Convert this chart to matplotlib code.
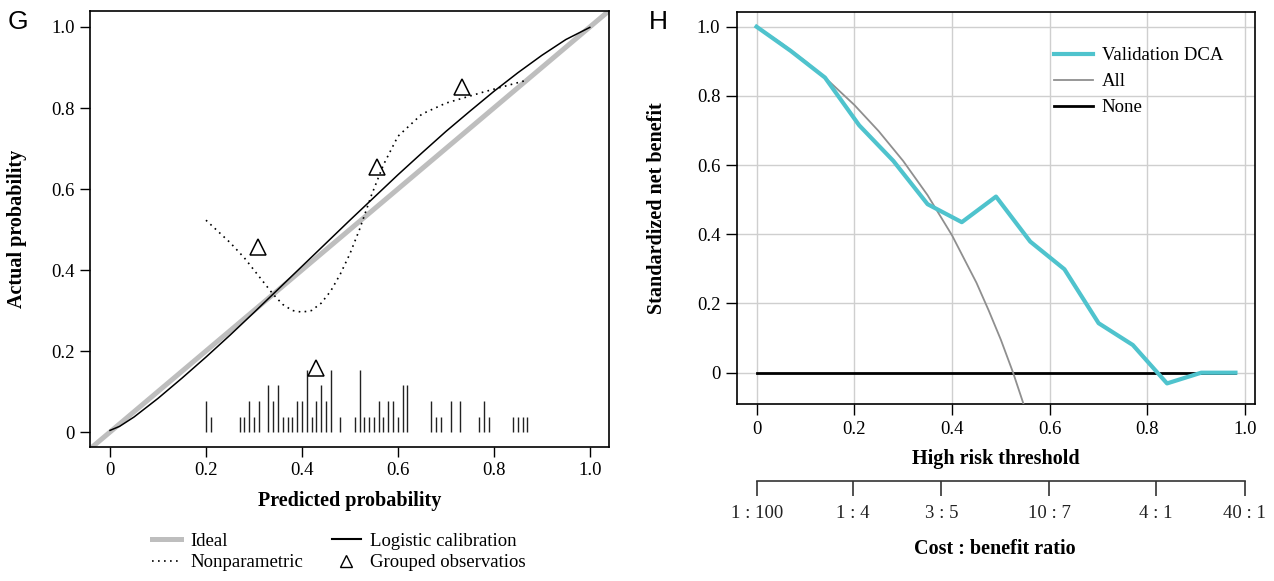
import numpy as np
import matplotlib
matplotlib.use('Agg')
import matplotlib.pyplot as plt
from matplotlib.lines import Line2D

plt.rcParams['font.family'] = ['Liberation Serif', 'DejaVu Serif']

# ---- panel G: calibration ----
logit_pred = [0.0, 0.02, 0.05, 0.1, 0.15, 0.2, 0.25, 0.3, 0.35, 0.4, 0.45, 0.5, 0.55,
              0.6, 0.65, 0.7, 0.75, 0.8, 0.85, 0.9, 0.95, 1.0]
logit_act = [0.004, 0.014, 0.037, 0.083, 0.133, 0.185, 0.239, 0.295, 0.352, 0.409, 0.466, 0.523, 0.579,
             0.635, 0.689, 0.742, 0.792, 0.841, 0.887, 0.930, 0.969, 0.999]

np_pred = [0.20, 0.25, 0.28, 0.31, 0.34, 0.36, 0.38, 0.40, 0.42, 0.44, 0.46, 0.48,
           0.50, 0.52, 0.545, 0.57, 0.60, 0.65, 0.70, 0.78, 0.87]
np_act = [0.523, 0.468, 0.43, 0.385, 0.34, 0.315, 0.300, 0.296, 0.30, 0.318, 0.348, 0.39,
          0.44, 0.50, 0.585, 0.66, 0.73, 0.785, 0.812, 0.840, 0.869]

grp_pred = [0.308, 0.429, 0.556, 0.734]
grp_act = [0.458, 0.157, 0.655, 0.853]

rug_pred = [0.20, 0.21, 0.27, 0.28, 0.29, 0.30, 0.31, 0.33, 0.34, 0.35, 0.36, 0.37,
            0.38, 0.39, 0.40, 0.41, 0.42, 0.43, 0.44, 0.45, 0.46, 0.48, 0.51, 0.52,
            0.53, 0.54, 0.55, 0.56, 0.57, 0.58, 0.59, 0.60, 0.61, 0.62, 0.67, 0.68,
            0.69, 0.71, 0.73, 0.77, 0.78, 0.79, 0.84, 0.85, 0.86, 0.87]
rug_count = [2, 1, 1, 1, 2, 1, 2, 3, 2, 3, 1, 1,
             1, 2, 2, 4, 1, 2, 3, 2, 4, 1, 1, 4,
             1, 1, 1, 2, 1, 2, 2, 1, 3, 3, 2, 1,
             1, 2, 2, 1, 2, 1, 1, 1, 1, 1]

prob_ticks = [0, 0.2, 0.4, 0.6, 0.8, 1.0]
prob_labels = ['0', '0.2', '0.4', '0.6', '0.8', '1.0']

# ---- panel H: decision curve ----
dca_thr = [0, 0.07, 0.14, 0.21, 0.28, 0.35, 0.42, 0.49, 0.56, 0.63, 0.70, 0.77, 0.84, 0.91, 0.98]
dca_val = [1.0, 0.93, 0.853, 0.715, 0.612, 0.487, 0.435, 0.509, 0.379, 0.299, 0.143, 0.08, -0.031, 0.0, 0.0]

all_thr = [0, 0.05, 0.1, 0.15, 0.2, 0.25, 0.3, 0.35, 0.4, 0.45, 0.475, 0.5, 0.525, 0.55]
all_nb = [1.0, 0.953, 0.90, 0.84, 0.774, 0.698, 0.612, 0.513, 0.397, 0.26, 0.18, 0.095, 0.0, -0.106]

none_thr = [0, 0.98]
none_nb = [0, 0]

cb_thr = [1 / 101, 1 / 5, 3 / 8, 10 / 17, 4 / 5, 40 / 41]
cb_labels = ['1 : 100', '1 : 4', '3 : 5', '10 : 7', '4 : 1', '40 : 1']

W, H = 1274, 581
fig = plt.figure(figsize=(W / 100, H / 100), dpi=100)


def px_axes(l, t, r, b):
    return fig.add_axes([l / W, 1 - b / H, (r - l) / W, (b - t) / H])


tick_fs = 13.5
lab_fs = 14.5

# ---------------- G ----------------
ax = px_axes(90, 11, 609, 447)
ax.axline((0, 0), (1, 1), color='#bebebe', lw=3.6, zorder=1)
ax.plot(logit_pred, logit_act, color='black', lw=1.1, zorder=3)
ax.plot(np_pred, np_act, color='black', lw=1.2, linestyle=(0, (1, 2.6)), zorder=3)
ax.plot(grp_pred, grp_act, linestyle='none', marker='^', markersize=11,
        markerfacecolor='none', markeredgecolor='black', markeredgewidth=1.1, zorder=4)
rug_unit = 0.0383
ax.vlines(rug_pred, 0, np.array(rug_count) * rug_unit, color='#222222', lw=1.0)

ax.set_xlim(-0.0417, 1.04)
ax.set_ylim(-0.037, 1.0395)
ax.set_xticks(prob_ticks, prob_labels)
ax.set_yticks(prob_ticks, prob_labels)
ax.tick_params(labelsize=tick_fs, length=7, width=1.0, pad=4)
for s in ax.spines.values():
    s.set_linewidth(1.2)

fig.text(17 / W, 1 - 229 / H, 'Actual probability', rotation=90, ha='center', va='center',
         fontsize=lab_fs, fontweight='bold')
fig.text(350 / W, 1 - 501 / H, 'Predicted probability', ha='center', va='center',
         fontsize=lab_fs, fontweight='bold')
fig.text(18 / W, 1 - 22 / H, 'G', ha='center', va='center', fontsize=19,
         family='Liberation Sans')

g_handles = [
    Line2D([], [], color='#bebebe', lw=3.6),
    Line2D([], [], color='black', lw=1.2, linestyle=(0, (1, 2.6))),
    Line2D([], [], color='black', lw=1.5),
    Line2D([], [], linestyle='none', marker='^', markersize=8,
           markerfacecolor='none', markeredgecolor='black'),
]
g_labels = ['Ideal', 'Nonparametric', 'Logistic calibration', 'Grouped observatios']
fig.legend(g_handles, g_labels, ncol=2, loc='center', bbox_to_anchor=(339 / W, 1 - 552 / H),
           frameon=False, fontsize=13.5, handlelength=1.55, handletextpad=0.5,
           columnspacing=1.5, labelspacing=0.25, borderpad=0)

# ---------------- H ----------------
ah = px_axes(737, 12, 1255, 404)
ah.grid(True, color='#cfcfcf', lw=1.0)
ah.set_axisbelow(True)
ah.plot(none_thr, none_nb, color='black', lw=2.0, zorder=2, label='None')
ah.plot(all_thr, all_nb, color='#8f8f8f', lw=1.3, zorder=3, label='All')
ah.plot(dca_thr, dca_val, color='#4fc3cd', lw=3.0, zorder=4, label='Validation DCA')
ah.set_xlim(-0.04, 1.02)
ah.set_ylim(-0.0905, 1.0425)
ah.set_xticks(prob_ticks, prob_labels)
ah.set_yticks(prob_ticks, prob_labels)
ah.tick_params(labelsize=tick_fs, length=8, width=1.0, pad=4)
for s in ah.spines.values():
    s.set_linewidth(1.2)

hh, hl = ah.get_legend_handles_labels()
order = [2, 1, 0]
ah.legend([hh[i] for i in order], [hl[i] for i in order], loc='upper left',
          bbox_to_anchor=(1054 / W, 1 - 47 / H), bbox_transform=fig.transFigure,
          frameon=False, fontsize=13.5, handlelength=2.1, handletextpad=0.45,
          labelspacing=0.48, borderpad=0, borderaxespad=0)

fig.text(657 / W, 1 - 208 / H, 'Standardized net benefit', rotation=90, ha='center',
         va='center', fontsize=lab_fs, fontweight='bold')
fig.text(996 / W, 1 - 459 / H, 'High risk threshold', ha='center', va='center',
         fontsize=lab_fs, fontweight='bold')
fig.text(658 / W, 1 - 22 / H, 'H', ha='center', va='center', fontsize=19,
         family='Liberation Sans')

# cost : benefit axis
ac = fig.add_axes([737 / W, 1 - 481 / H, 518 / W, 0.0001])
ac.patch.set_visible(False)
for k in ['top', 'left', 'right']:
    ac.spines[k].set_visible(False)
ac.spines['bottom'].set_color('#333333')
ac.spines['bottom'].set_linewidth(1.2)
ac.spines['bottom'].set_bounds(cb_thr[0], cb_thr[-1])
ac.set_xlim(-0.0303, 0.9964)
ac.set_yticks([])
ac.set_xticks(cb_thr, cb_labels)
ac.tick_params(axis='x', labelsize=tick_fs, length=11, width=1.2, pad=6,
               color='#333333', labelcolor='#222222')
fig.text(995 / W, 1 - 549 / H, 'Cost : benefit ratio', ha='center', va='center',
         fontsize=lab_fs, fontweight='bold')

fig.savefig('out.png', dpi=100)
